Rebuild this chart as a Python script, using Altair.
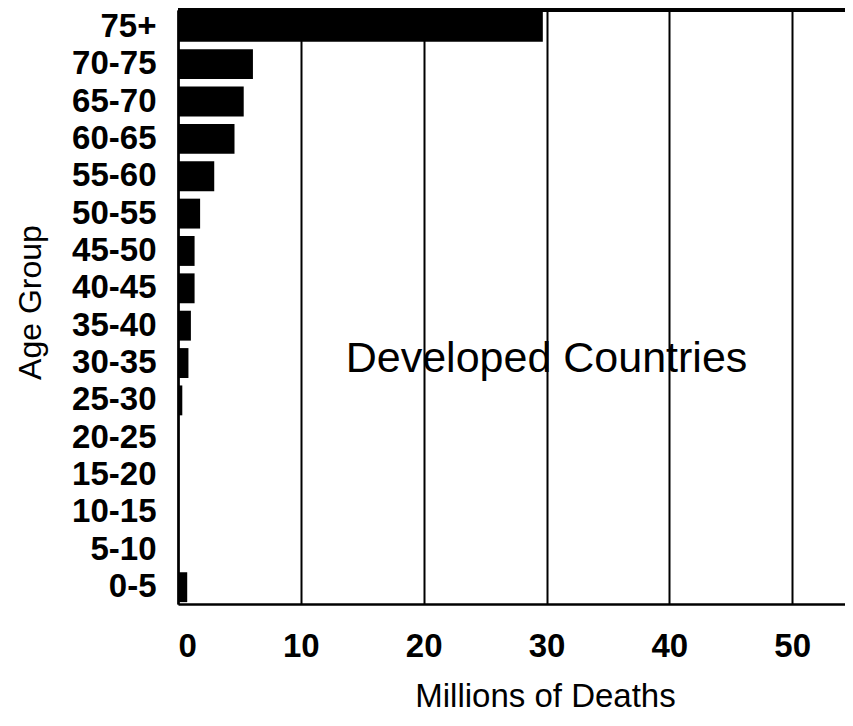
import altair as alt
import pandas as pd

age_groups = ["75+", "70-75", "65-70", "60-65", "55-60", "50-55", "45-50", "40-45",
              "35-40", "30-35", "25-30", "20-25", "15-20", "10-15", "5-10", "0-5"]
deaths = [29.7, 6.1, 5.35, 4.6, 2.95, 1.8, 1.35, 1.35,
          1.05, 0.85, 0.35, 0.0, 0.0, 0.0, 0.0, 0.75]
x_ticks = [0, 10, 20, 30, 40, 50]
annotation = "Developed Countries"

W, H = 667, 594

df = pd.DataFrame({"age": age_groups, "deaths": deaths})

x_scale = alt.Scale(domain=[0, 54.3], nice=False, zero=True)
y_scale = alt.Scale(domain=age_groups, paddingInner=0.2, paddingOuter=0.05)

bars = alt.Chart(df).mark_bar(color="black").encode(
    x=alt.X("deaths:Q", scale=x_scale,
            axis=alt.Axis(title="Millions of Deaths", values=x_ticks, grid=True,
                          gridColor="black", gridWidth=2, gridOpacity=1,
                          domainColor="black", domainWidth=2.5, ticks=False,
                          labelFont="Liberation Sans", labelFontWeight="bold",
                          labelFontSize=33, labelColor="black", labelPadding=26,
                          titleFont="Liberation Sans", titleFontWeight="normal",
                          titleFontSize=33, titleColor="black",
                          titleX=367, titleY=92, titleBaseline="middle")),
    y=alt.Y("age:N", scale=y_scale, sort=age_groups,
            axis=alt.Axis(title="Age Group", grid=False, ticks=False,
                          domainColor="black", domainWidth=2.5,
                          labelFont="Liberation Sans", labelFontWeight="bold",
                          labelFontSize=33, labelColor="black", labelPadding=22,
                          titleFont="Liberation Sans", titleFontWeight="normal",
                          titleFontSize=32, titleColor="black",
                          titleX=-148, titleY=H / 2 - 5, titleBaseline="middle")),
)

label_df = pd.DataFrame({"x": [30], "age": ["30-35"], "text": [annotation]})
label = alt.Chart(label_df).mark_text(
    font="Liberation Sans", fontSize=43, color="black", align="center",
    baseline="middle", dy=-4
).encode(
    x=alt.X("x:Q", scale=x_scale),
    y=alt.Y("age:N", scale=y_scale, sort=age_groups),
    text="text:N",
)

top_rule = alt.Chart(df).mark_rule(color="black", strokeWidth=2.5).encode(
    x=alt.value(0), x2=alt.value(W), y=alt.value(0)
)

chart = alt.layer(bars, label, top_rule).properties(
    width=W, height=H,
    autosize=alt.AutoSizeParams(type="none"),
    padding={"left": 170, "top": 2, "right": 0, "bottom": 112},
).configure_view(stroke="#aaaaaa", strokeWidth=1).configure(background="white")

chart.save("out.html", embed_options={"renderer": "svg", "actions": False})
